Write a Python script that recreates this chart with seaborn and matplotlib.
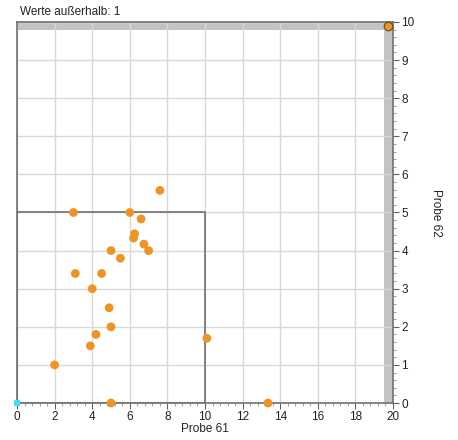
import matplotlib
matplotlib.use("Agg")
import matplotlib.pyplot as plt
import seaborn as sns
import pandas as pd
from matplotlib.ticker import MultipleLocator

probe61 = [7.6, 3.0, 6.0, 6.6, 6.25, 6.2, 6.75, 7.0, 5.0, 5.5, 3.1, 4.5, 4.0, 4.9, 5.0, 4.2, 3.9, 2.0, 10.1, 5.0, 13.35]
probe62 = [5.58, 5.0, 5.0, 4.83, 4.44, 4.33, 4.17, 4.0, 4.0, 3.8, 3.4, 3.4, 3.0, 2.5, 2.0, 1.8, 1.5, 1.0, 1.7, 0.0, 0.0]
outlier_x = [19.75]
outlier_y = [9.9]
origin_x = [0]
origin_y = [0]
x_ticks = [0, 2, 4, 6, 8, 10, 12, 14, 16, 18, 20]
y_ticks = [0, 1, 2, 3, 4, 5, 6, 7, 8, 9, 10]
box_x = [0, 10, 10, 0, 0]
box_y = [0, 0, 5, 5, 0]

sns.set_style("white")
plt.rcParams['font.family'] = ['Liberation Sans', 'DejaVu Sans']

fig = plt.figure(figsize=(4.58, 4.40), dpi=100)
ax = fig.add_axes([17/458, 1-403/440, (393-17)/458, (403-22)/440])

ax.set_xlim(0, 20)
ax.set_ylim(0, 10)

ax.axvspan(19.52, 20, color="#c3c3c3", zorder=0.5, lw=0)
ax.axhspan(9.78, 10, color="#c3c3c3", zorder=0.5, lw=0)

ax.set_xticks(x_ticks)
ax.set_yticks(y_ticks)
ax.xaxis.set_minor_locator(MultipleLocator(0.4))
ax.yaxis.set_minor_locator(MultipleLocator(0.2))
ax.grid(True, which="major", color="#d8d8d8", lw=1, zorder=0)
ax.set_axisbelow(True)

ax.plot(box_x, box_y, color="#707070", lw=1.2, zorder=2)

df = pd.DataFrame({"Probe 61": probe61, "Probe 62": probe62})
sns.scatterplot(data=df, x="Probe 61", y="Probe 62", ax=ax, color="#EF9424",
                s=40, edgecolor="none", zorder=3, clip_on=False)
sns.scatterplot(x=outlier_x, y=outlier_y, ax=ax, color="#EF9424", s=38,
                edgecolor="#6b4a10", linewidth=0.8, zorder=4, clip_on=False)
sns.scatterplot(x=origin_x, y=origin_y, ax=ax, color="#3fe0f0", marker="s", s=22,
                edgecolor="none", zorder=4, clip_on=False)

ax.yaxis.tick_right()
ax.yaxis.set_label_position("right")
ax.tick_params(axis="both", which="major", labelsize=8.5, length=4, color="#606060", width=0.8, pad=2,
               labelcolor="#222222")
ax.tick_params(axis="both", which="minor", length=2, color="#909090", width=0.6)
ax.tick_params(axis="y", which="both", left=False, right=True)
ax.tick_params(axis="x", which="both", bottom=True, top=False)

ax.set_xlabel("Probe 61", fontsize=8.5, labelpad=0, color="#222222")
ax.set_ylabel("Probe 62", fontsize=8.5, rotation=-90, labelpad=20, color="#222222")

for side in ["left", "right", "top", "bottom"]:
    ax.spines[side].set_visible(True)
    ax.spines[side].set_color("#707070")
    ax.spines[side].set_linewidth(1.2)

fig.text(20/458, 1-12/440, "Werte außerhalb: 1", fontsize=8.5, va="center", ha="left", color="#222222")

fig.savefig("out.png", dpi=100)
